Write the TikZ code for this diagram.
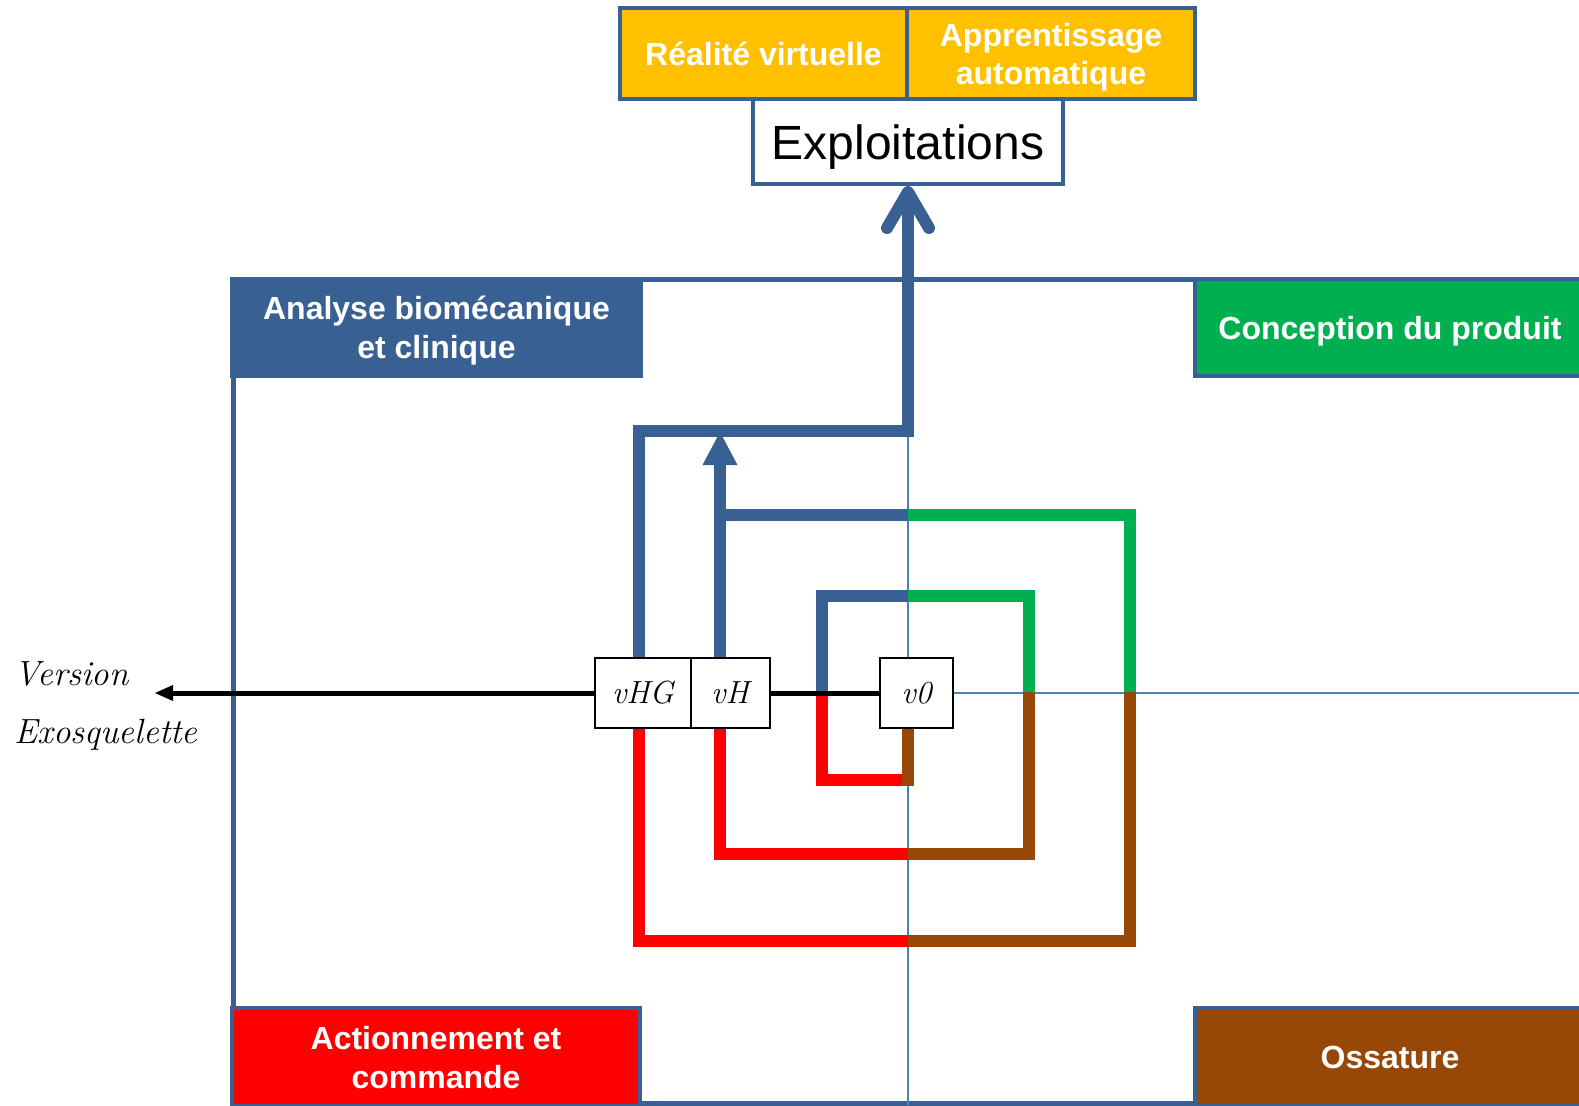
\documentclass[tikz,border=0pt]{standalone}
\usepackage{fontspec}
\setmainfont{Liberation Sans}
\usetikzlibrary{arrows.meta}
% Latin Modern italic for the hand-lettered labels
\newcommand{\handfont}{\usefont{TU}{lmr}{m}{it}}
\definecolor{frameblue}{RGB}{56,96,146}
\definecolor{thinblue}{RGB}{79,129,189}
\definecolor{ogreen}{RGB}{0,176,80}
\definecolor{ored}{RGB}{255,0,0}
\definecolor{obrown}{RGB}{152,72,6}
\definecolor{oyellow}{RGB}{255,192,0}
\begin{document}
\begin{tikzpicture}[x=0.5pt,y=-0.5pt,
  hdr/.style={draw=frameblue, line width=2pt, text=white, align=center, inner sep=0pt,
    text depth=0pt, font=\fontsize{16}{19.5}\selectfont\bfseries},
  vbox/.style={draw=black, line width=1pt, fill=white, inner sep=0pt, minimum height=35pt,
    font=\fontsize{16}{16}\handfont},
  loopline/.style={line width=6pt, line join=miter, line cap=butt},
  thinline/.style={thinblue, line width=1pt}]
\useasboundingbox (0,0) rectangle (1579,1105);
\clip (0,0) rectangle (1579,1105);

% outer frame
\draw[frameblue, line width=2.5pt] (233,279) rectangle (1640,1103);

% quadrant headers
\node[hdr, fill=frameblue, minimum width=204.5pt, minimum height=48.5pt] (analyse) at (436.5,327.5) {Analyse biomécanique\\et clinique};
\node[hdr, fill=ogreen, minimum width=195pt, minimum height=48.5pt] (conception) at (1390,327.5) {Conception du produit};
\node[hdr, fill=ored, minimum width=204pt, minimum height=49pt] (action) at (436,1057) {Actionnement et\\commande};
\node[hdr, fill=obrown, minimum width=195pt, minimum height=49pt] (ossature) at (1390,1057) {Ossature};

% exploitation boxes
\node[draw=frameblue, line width=2pt, fill=white, minimum width=155pt, minimum height=42.5pt, inner sep=0pt,
  text height=18pt, text depth=0pt, font=\fontsize{24}{24}\selectfont] (expl) at (908,141.5) {Exploitations};
\node[hdr, fill=oyellow, minimum width=143.5pt, minimum height=45.5pt] (vr) at (763.5,53.5) {Réalité virtuelle};
\node[hdr, fill=oyellow, minimum width=144pt, minimum height=45.5pt, font=\fontsize{16}{19}\selectfont\bfseries] (ml) at (1051,53.5) {Apprentissage\\automatique};

% version boxes
\node[vbox, minimum width=48pt] (vHG) at (643,693) {vHG};
\node[vbox, minimum width=39.5pt] (vH) at (730,693) {vH};
\node[vbox, minimum width=36.5pt] (v0) at (916.5,693) {v0};

% thin axes
\draw[thinline] (908,436) -- (908,1105);
\draw[thinline] (v0.east) -- (1600,693);

% coloured loops
\draw[loopline, frameblue] (716,515) -- (908,515);
\draw[loopline, ogreen] (908,515) -- (1130,515) -- (1130,692);
\draw[loopline, obrown] (1130,692) -- (1130,941) -- (908,941);
\draw[loopline, ored] (908,941) -- (639,941) -- ([xshift=-2pt]vHG.south);
\draw[loopline, frameblue] (908,596) -- (822,596) -- (822,692);
\draw[loopline, ogreen] (908,596) -- (1029,596) -- (1029,692);
\draw[loopline, obrown] (1029,692) -- (1029,854) -- (908,854);
\draw[loopline, ored] (908,854) -- (720,854) -- ([xshift=-5pt]vH.south);
\draw[loopline, ored] (822,692) -- (822,780) -- (902,780);
\draw[loopline, obrown] (908,786) -- ([xshift=-4.25pt]v0.south);

% arrows up to the exploitations
\draw[loopline, frameblue, -{Straight Barb[length=18pt,width=21pt,round]}]
  ([xshift=-2pt]vHG.north) |- (expl.south |- 0,431) -- (expl.south);
\draw[loopline, frameblue, -{Triangle[length=16.5pt,width=17.5pt,line width=0pt]}]
  ([xshift=-5pt]vH.north) -- ++(0,-225);

% version line
\coordinate (vout) at (155,693);
\draw[line width=2.5pt, -{Triangle[length=9pt,width=8pt,line width=0pt]}] (vHG.west) -- (vout);
\draw[line width=2.5pt] (vH.east) -- (v0.west);

% redraw boxes on top of the lines
\node[vbox, minimum width=48pt] at (vHG) {vHG};
\node[vbox, minimum width=39.5pt] at (vH) {vH};
\node[vbox, minimum width=36.5pt] at (v0) {v0};

\node[anchor=west, align=left, inner sep=0pt, font=\fontsize{17.5}{29}\handfont] (version) at (14,706) {Version\\Exosquelette};
\end{tikzpicture}
\end{document}
